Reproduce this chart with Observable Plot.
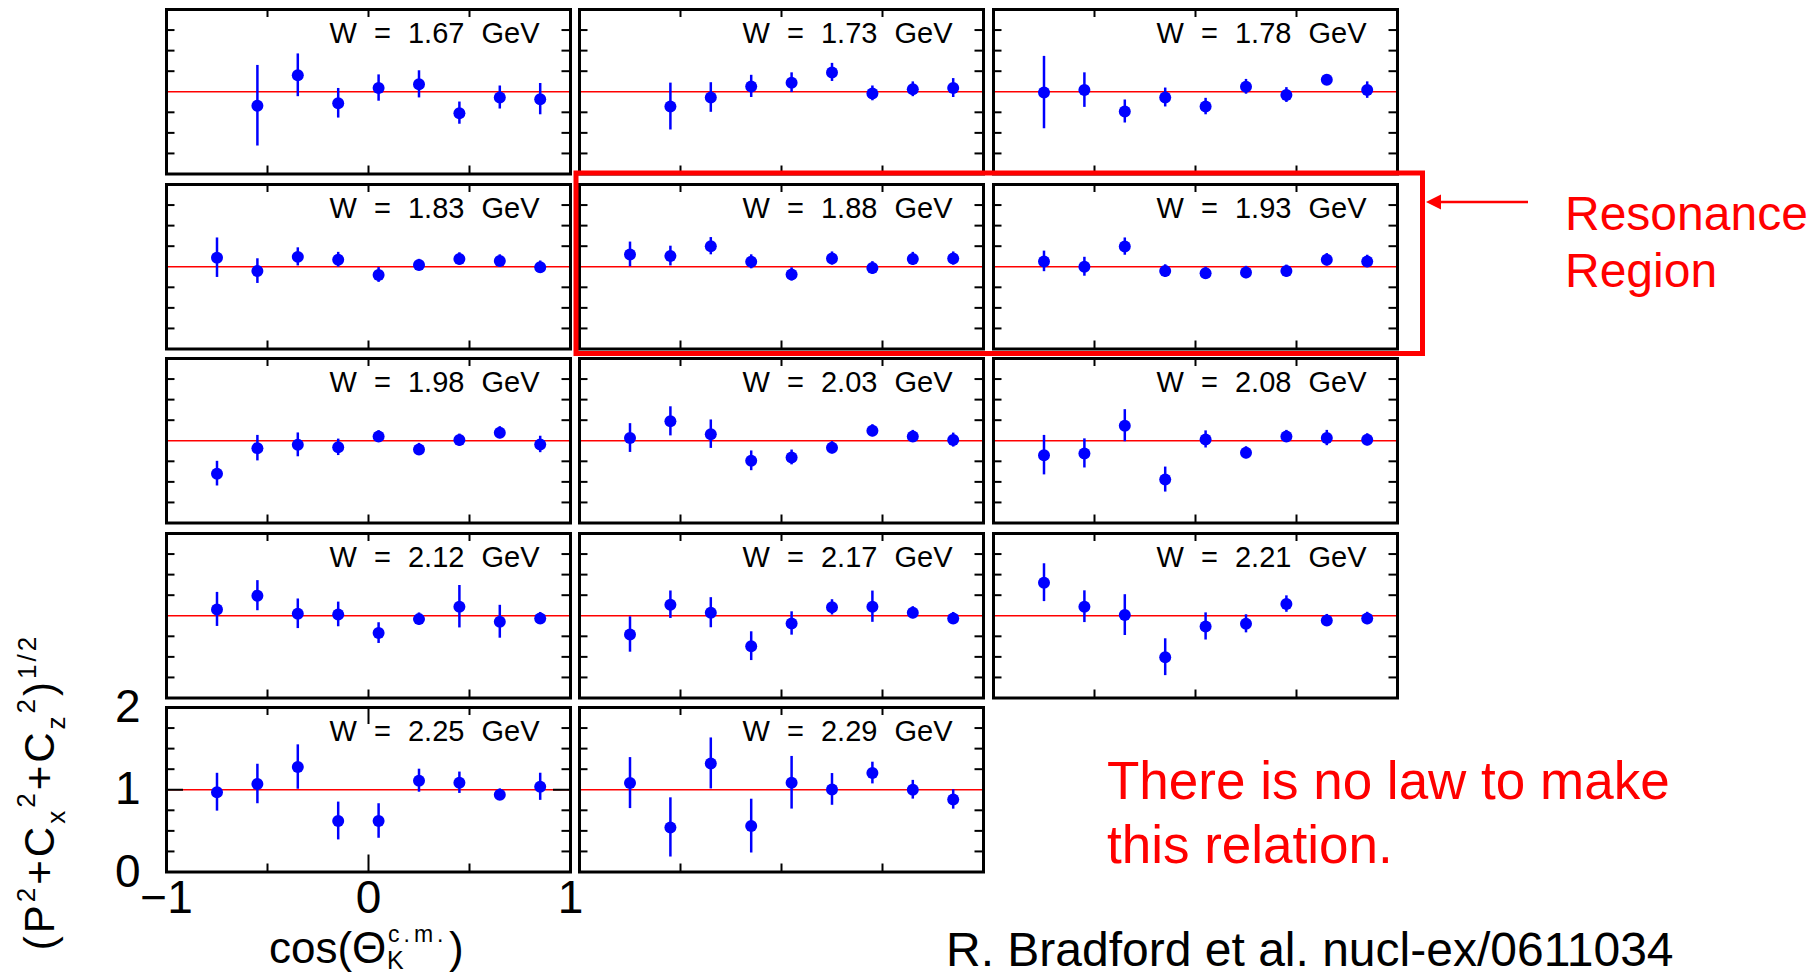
<!DOCTYPE html>
<html>
<head>
<meta charset="utf-8">
<script src="https://cdn.jsdelivr.net/npm/d3@7"></script>
<script src="https://cdn.jsdelivr.net/npm/@observablehq/plot@0.6"></script>
<style>
  html, body { margin: 0; padding: 0; background: #fff; }
  #chart { position: relative; width: 1813px; height: 975px; overflow: hidden;
           font-family: "Liberation Sans", Arial, sans-serif; }
  #chart svg.panel { position: absolute; }
  #chart svg.panel g[aria-label="text"] text { word-spacing: 9px; }
  #notes { position: absolute; left: 0; top: 0; pointer-events: none; }
</style>
</head>
<body>
<div id="chart"></div>
<script>
// Kaon angle bins (cos θ_K c.m.)
const cosTheta = [-0.75, -0.55, -0.35, -0.15, 0.05, 0.25, 0.45, 0.65, 0.85];

// Beam energies W (GeV), one panel each
const energies = ["1.67", "1.73", "1.78", "1.83", "1.88", "1.93", "1.98",
                  "2.03", "2.08", "2.12", "2.17", "2.21", "2.25", "2.29"];

// (P² + Cx² + Cz²)^1/2 and its uncertainty per angle bin
const val167 = [null, 0.83, 1.20, 0.86, 1.045, 1.09, 0.74, 0.93, 0.91];
const err167 = [null, 0.49, 0.26, 0.18, 0.16, 0.165, 0.135, 0.14, 0.19];
const val173 = [null, 0.82, 0.93, 1.065, 1.11, 1.235, 0.98, 1.03, 1.045];
const err173 = [null, 0.285, 0.18, 0.135, 0.12, 0.11, 0.09, 0.09, 0.115];
const val178 = [0.99, 1.02, 0.76, 0.93, 0.82, 1.06, 0.96, 1.145, 1.02];
const err178 = [0.44, 0.21, 0.14, 0.115, 0.10, 0.09, 0.09, 0.06, 0.10];
const val183 = [1.11, 0.947, 1.12, 1.085, 0.90, 1.02, 1.095, 1.07, 0.995];
const err183 = [0.24, 0.15, 0.11, 0.09, 0.09, 0.07, 0.075, 0.075, 0.075];
const val188 = [1.15, 1.13, 1.25, 1.06, 0.907, 1.10, 0.985, 1.095, 1.10];
const err188 = [0.15, 0.12, 0.105, 0.085, 0.08, 0.08, 0.077, 0.08, 0.08];
const val193 = [1.065, 1.0, 1.245, 0.947, 0.92, 0.93, 0.947, 1.085, 1.065];
const err193 = [0.125, 0.115, 0.105, 0.077, 0.075, 0.075, 0.073, 0.075, 0.075];
const val198 = [0.60, 0.91, 0.95, 0.92, 1.053, 0.895, 1.008, 1.098, 0.955];
const err198 = [0.15, 0.155, 0.145, 0.10, 0.07, 0.073, 0.073, 0.073, 0.10];
const val203 = [1.033, 1.236, 1.08, 0.756, 0.797, 0.915, 1.122, 1.053, 1.008];
const err203 = [0.175, 0.177, 0.173, 0.12, 0.09, 0.075, 0.073, 0.073, 0.085];
const val208 = [0.825, 0.846, 1.183, 0.528, 1.016, 0.854, 1.053, 1.033, 1.012];
const err208 = [0.24, 0.177, 0.195, 0.152, 0.104, 0.073, 0.073, 0.093, 0.073];
const val212 = [1.077, 1.244, 1.024, 1.016, 0.789, 0.959, 1.11, 0.927, 0.967];
const err212 = [0.207, 0.183, 0.18, 0.15, 0.126, 0.075, 0.258, 0.2, 0.073];
const val217 = [0.772, 1.134, 1.037, 0.63, 0.906, 1.102, 1.11, 1.037, 0.967];
const err217 = [0.215, 0.167, 0.183, 0.175, 0.142, 0.093, 0.19, 0.073, 0.073];
const val221 = [1.402, 1.11, 1.008, 0.496, 0.87, 0.902, 1.142, 0.943, 0.967];
const err221 = [0.23, 0.193, 0.248, 0.224, 0.165, 0.11, 0.10, 0.073, 0.075];
const val225 = [0.97, 1.07, 1.276, 0.62, 0.62, 1.11, 1.085, 0.94, 1.036];
const err225 = [0.23, 0.24, 0.27, 0.23, 0.21, 0.14, 0.13, 0.07, 0.165];
const val229 = [1.081, 0.542, 1.32, 0.558, 1.085, 1.004, 1.203, 1.0, 0.882];
const err229 = [0.31, 0.36, 0.31, 0.327, 0.32, 0.193, 0.132, 0.114, 0.118];

const values = [val167, val173, val178, val183, val188, val193, val198,
                val203, val208, val212, val217, val221, val225, val229];
const errors = [err167, err173, err178, err183, err188, err193, err198,
                err203, err208, err212, err217, err221, err225, err229];

// Axis ticks
const xMinor = [-0.5, 0.5];
const xMajor = [0];
const yMinor = [0.25, 0.5, 0.75, 1.25, 1.5, 1.75];
const yMajor = [1];
const xLabels = [-1, 0, 1];
const yLabels = [0, 1, 2];

const BLUE = "#0000ff", RED = "#ff0000";
const FW = 404, FH = 164.5;                 // frame size of one panel
const colLeft = [166, 579, 993];
const rowTop = [9, 183.5, 358, 532.5, 707.3];
const LABELED = 12;                         // bottom-left panel carries the axes
const intFormat = d3.format("d");

const chart = document.getElementById("chart");

energies.forEach((w, i) => {
  const col = i % 3, row = Math.floor(i / 3);
  const labeled = i === LABELED;
  const m = labeled ? {top: 3, right: 14, bottom: 60, left: 64}
                    : {top: 3, right: 3, bottom: 3, left: 3};
  const data = cosTheta
    .map((c, k) => ({c, v: values[i][k], e: errors[i][k]}))
    .filter(d => d.v != null);

  const tick = {stroke: "black", strokeWidth: 2};
  const xTicks = labeled ? xMinor : xMinor.concat(xMajor);
  const marks = [
    Plot.tickY(yMinor, {y: d => d, insetRight: FW - 8.5, ...tick}),
    Plot.tickY(yMinor, {y: d => d, insetLeft: FW - 8.5, ...tick}),
    Plot.tickX(xTicks, {x: d => d, insetBottom: FH - 8, ...tick}),
    Plot.tickX(xTicks, {x: d => d, insetTop: FH - 8, ...tick}),
    Plot.ruleY([1], {stroke: RED, strokeWidth: 1.7}),
    Plot.ruleX(data, {x: "c", y1: d => d.v - d.e, y2: d => d.v + d.e, stroke: BLUE, strokeWidth: 2.5}),
    Plot.dot(data, {x: "c", y: "v", r: 6, fill: BLUE, stroke: "none"})
  ];
  if (labeled) {
    marks.push(
      Plot.tickY(yMajor, {y: d => d, insetRight: FW - 17, ...tick}),
      Plot.tickY(yMajor, {y: d => d, insetLeft: FW - 17, ...tick}),
      Plot.tickX(xMajor, {x: d => d, insetBottom: FH - 17, ...tick}),
      Plot.tickX(xMajor, {x: d => d, insetTop: FH - 17, ...tick}),
      Plot.axisY(yLabels, {tickSize: 0, tickPadding: 26, fontSize: 46, label: null, fill: "black", tickFormat: intFormat}),
      Plot.axisX(xLabels, {tickSize: 0, tickPadding: 8, fontSize: 46, label: null, fill: "black", tickFormat: intFormat})
    );
  }
  marks.push(
    Plot.frame({stroke: "black", strokeWidth: 3}),
    Plot.text([`W = ${w} GeV`], {frameAnchor: "top-right", dx: -31, dy: 12.8, fontSize: 29, fill: "black"})
  );

  const svg = Plot.plot({
    width: FW + m.left + m.right,
    height: FH + m.top + m.bottom,
    marginTop: m.top, marginRight: m.right, marginBottom: m.bottom, marginLeft: m.left,
    x: {domain: [-1, 1], label: null, axis: null},
    y: {domain: [0, 2], label: null, axis: null},
    style: {background: "transparent", overflow: "visible",
            fontFamily: "'Liberation Sans', Arial, sans-serif", color: "black"},
    marks
  });
  svg.classList.add("panel");
  svg.style.left = (colLeft[col] - m.left) + "px";
  svg.style.top = (rowTop[row] - m.top) + "px";
  chart.appendChild(svg);
});

// Axis titles and annotations
const notes = document.createElementNS("http://www.w3.org/2000/svg", "svg");
notes.setAttribute("id", "notes");
notes.setAttribute("width", 1813);
notes.setAttribute("height", 975);
notes.innerHTML = `
  <g font-family="'Liberation Sans', Arial, sans-serif" fill="black">
    <text transform="translate(54,792) rotate(-90)" text-anchor="middle" font-size="42" letter-spacing="3">(P<tspan font-size="26" dy="-19">2</tspan><tspan dy="19">+C</tspan><tspan font-size="26" dy="11">x</tspan><tspan font-size="26" dy="-30">2</tspan><tspan dy="19">+C</tspan><tspan font-size="26" dy="11">z</tspan><tspan font-size="26" dy="-30">2</tspan><tspan dy="19">)</tspan><tspan font-size="26" dy="-18">1/2</tspan></text>
    <text x="269" y="963" font-size="44">cos(Θ</text>
    <text x="388" y="942" font-size="23" letter-spacing="4">c.m.</text>
    <text x="387" y="969" font-size="25">K</text>
    <text x="449" y="963" font-size="44">)</text>
    <text x="946" y="966" font-size="48">R. Bradford et al. nucl-ex/0611034</text>
  </g>
  <g fill="${RED}" font-family="'Liberation Sans', Arial, sans-serif">
    <rect x="576" y="173" width="846.5" height="180.5" fill="none" stroke="${RED}" stroke-width="5"/>
    <line x1="1528" y1="202" x2="1438" y2="202" stroke="${RED}" stroke-width="2.7"/>
    <polygon points="1426,202 1441,194.5 1441,209.5"/>
    <text x="1565" y="230" font-size="48">Resonance</text>
    <text x="1565" y="287" font-size="48">Region</text>
    <text x="1107" y="799" font-size="53">There is no law to make</text>
    <text x="1107" y="863" font-size="53">this relation.</text>
  </g>`;
chart.appendChild(notes);
</script>
</body>
</html>
